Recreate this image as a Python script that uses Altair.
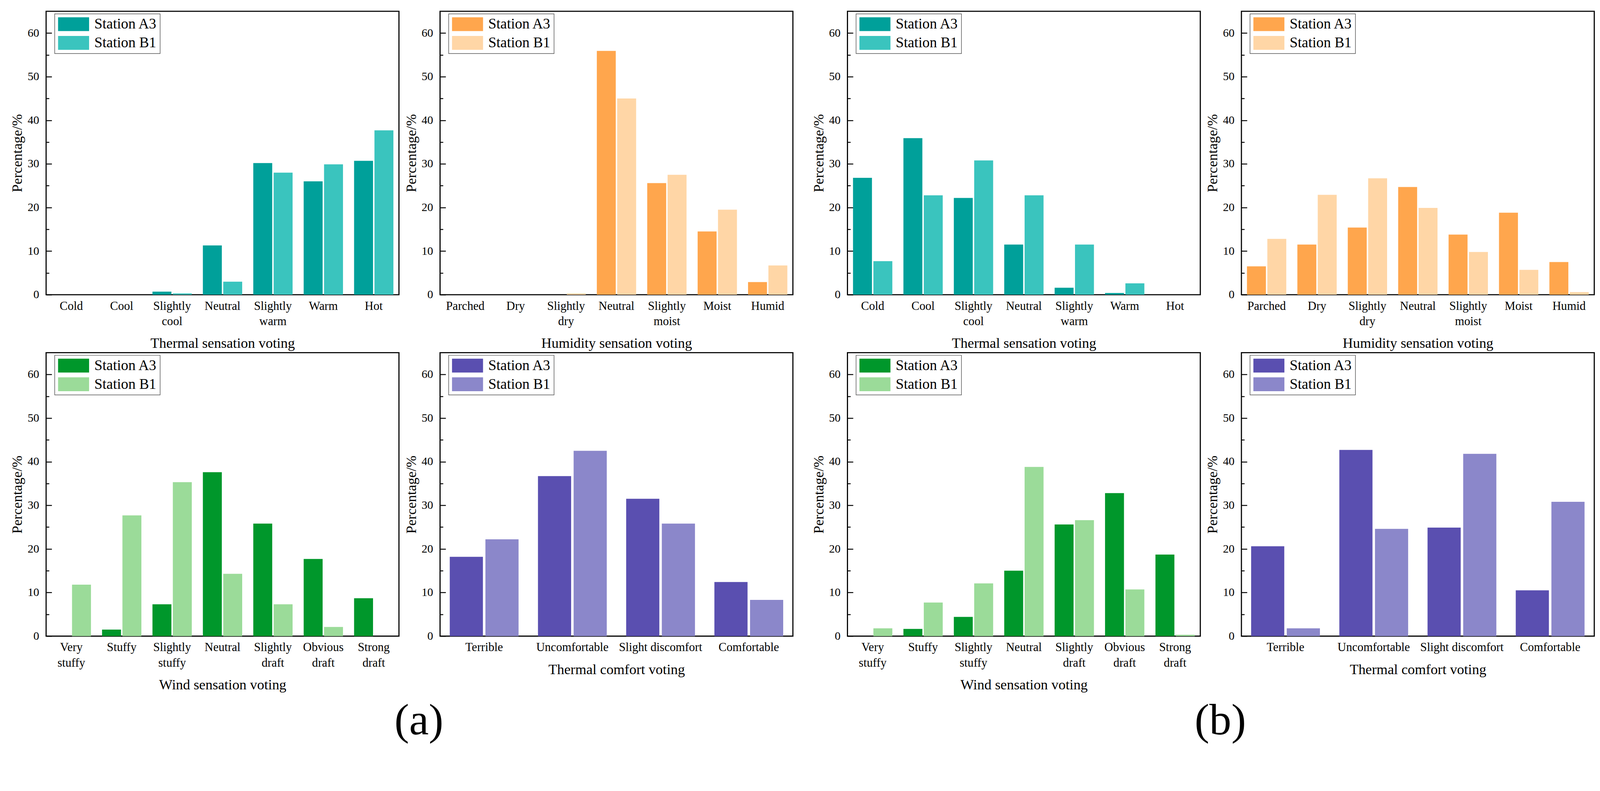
import altair as alt
import pandas as pd

FONT = "Liberation Serif"

thermal_cats = ["Cold", "Cool", "Slightly cool", "Neutral", "Slightly warm", "Warm", "Hot"]
humid_cats = ["Parched", "Dry", "Slightly dry", "Neutral", "Slightly moist", "Moist", "Humid"]
wind_cats = ["Very stuffy", "Stuffy", "Slightly stuffy", "Neutral", "Slightly draft", "Obvious draft", "Strong draft"]
comfort_cats = ["Terrible", "Uncomfortable", "Slight discomfort", "Comfortable"]

# (a)
a_thermal_A3 = [0, 0, 0.7, 11.3, 30.2, 26.0, 30.7]
a_thermal_B1 = [0, 0, 0.3, 3.0, 28.0, 29.9, 37.7]
a_humid_A3 = [0, 0, 0, 55.9, 25.6, 14.5, 2.9]
a_humid_B1 = [0, 0, 0.3, 45.0, 27.5, 19.5, 6.7]
a_wind_A3 = [0, 1.5, 7.3, 37.6, 25.8, 17.7, 8.7]
a_wind_B1 = [11.8, 27.7, 35.3, 14.3, 7.3, 2.1, 0]
a_comfort_A3 = [18.2, 36.7, 31.5, 12.4]
a_comfort_B1 = [22.2, 42.5, 25.8, 8.3]

# (b)
b_thermal_A3 = [26.8, 35.9, 22.2, 11.5, 1.6, 0.4, 0]
b_thermal_B1 = [7.7, 22.8, 30.8, 22.8, 11.5, 2.6, 0]
b_humid_A3 = [6.5, 11.5, 15.4, 24.7, 13.8, 18.8, 7.5]
b_humid_B1 = [12.8, 22.9, 26.7, 19.9, 9.8, 5.7, 0.6]
b_wind_A3 = [0, 1.65, 4.4, 15.0, 25.6, 32.8, 18.7]
b_wind_B1 = [1.8, 7.7, 12.1, 38.8, 26.6, 10.7, 0.3]
b_comfort_A3 = [20.6, 42.7, 24.9, 10.5]
b_comfort_B1 = [1.8, 24.6, 41.8, 30.8]

stations = ["Station A3", "Station B1"]
teal = ["#00A09A", "#3AC4BE"]
orange = ["#FFA64D", "#FFD6A6"]
green = ["#00972B", "#9BDB99"]
purple = ["#5A4FB0", "#8B87CA"]

PW, PH = 944, 758


def panel(cats, a3, b1, colors, xtitle, split):
    n = len(cats)
    df = pd.DataFrame({
        "cat": cats * 2,
        "station": [stations[0]] * n + [stations[1]] * n,
        "value": a3 + b1,
    })
    xaxis_kw = dict(
        title=xtitle, labelAngle=0, ticks=False, tickSize=0, domain=False,
        labelPadding=15, labelFontSize=32, labelLineHeight=41, labelLimit=0,
        titleFontSize=38, titlePadding=25, titleFontWeight="normal",
        labelColor="black", titleColor="black", labelFont=FONT, titleFont=FONT,
    )
    if split:
        xaxis_kw["labelExpr"] = "split(datum.label, ' ')"
    yaxis = alt.Axis(
        title="Percentage/%", values=list(range(0, 61, 5)),
        labelExpr="datum.value % 10 === 0 ? datum.label : ''",
        ticks=False, tickSize=0, domain=False, labelPadding=19,
        labelFontSize=31, titleFontSize=38, titlePadding=7,
        titleFontWeight="normal", labelColor="black", titleColor="black",
        labelFont=FONT, titleFont=FONT,
        grid=True, gridColor="black", gridOpacity=1, gridWidth=2.5,
        gridDash={"condition": {"test": "datum.value % 10 === 0", "value": [15, 4000]},
                  "value": [8, 4000]},
    )
    legend = alt.Legend(
        title=None, orient="none", legendX=23, legendY=7,
        symbolType="M-2.243,-1H2.243V1H-2.243Z", symbolSize=1369,
        symbolOffset=23, labelOffset=36, symbolStrokeWidth=0, symbolOpacity=1,
        labelFontSize=39, labelFont=FONT, labelColor="black", labelLimit=0,
        strokeColor="#555555", padding=8, rowPadding=10,
        fillColor="white",
    )
    return alt.Chart(df).mark_bar().encode(
        x=alt.X("cat:N", sort=cats, axis=alt.Axis(**xaxis_kw),
                scale=alt.Scale(paddingInner=0.22, paddingOuter=0.11)),
        xOffset=alt.XOffset("station:N", sort=stations,
                            scale=alt.Scale(paddingInner=0.07, paddingOuter=0)),
        y=alt.Y("value:Q", axis=yaxis, scale=alt.Scale(domain=[0, 65], nice=False, zero=True)),
        color=alt.Color("station:N", sort=stations,
                        scale=alt.Scale(domain=stations, range=colors), legend=legend),
    ).properties(width=PW, height=PH)


def indep(ch):
    return ch.resolve_scale(color="independent", x="independent", y="independent",
                            xOffset="independent")


p1 = panel(thermal_cats, a_thermal_A3, a_thermal_B1, teal, "Thermal sensation voting", True)
p2 = panel(humid_cats, a_humid_A3, a_humid_B1, orange, "Humidity sensation voting", True)
p3 = panel(thermal_cats, b_thermal_A3, b_thermal_B1, teal, "Thermal sensation voting", True)
p4 = panel(humid_cats, b_humid_A3, b_humid_B1, orange, "Humidity sensation voting", True)
p5 = panel(wind_cats, a_wind_A3, a_wind_B1, green, "Wind sensation voting", True)
p6 = panel(comfort_cats, a_comfort_A3, a_comfort_B1, purple, "Thermal comfort voting", False)
p7 = panel(wind_cats, b_wind_A3, b_wind_B1, green, "Wind sensation voting", True)
p8 = panel(comfort_cats, b_comfort_A3, b_comfort_B1, purple, "Thermal comfort voting", False)

SP = 11
rowA1 = indep(alt.hconcat(p1, p2, spacing=SP))
rowA2 = indep(alt.hconcat(p5, p6, spacing=SP))
rowB1 = indep(alt.hconcat(p3, p4, spacing=SP))
rowB2 = indep(alt.hconcat(p7, p8, spacing=SP))


def group(r1, r2, label):
    return indep(alt.vconcat(r1, r2, spacing=1)).properties(
        title=alt.TitleParams(label, orient="bottom", anchor="middle", fontSize=118,
                              font=FONT, fontWeight="normal", color="black",
                              offset=18, dx=46)
    )


gA = group(rowA1, rowA2, "(a)")
gB = group(rowB1, rowB2, "(b)")

chart = indep(alt.hconcat(gA, gB, spacing=47)).properties(
    padding={"left": 18, "top": -24, "right": 5, "bottom": 5}
).configure(font=FONT).configure_view(stroke="black", strokeWidth=3
).configure_legend(strokeWidth=1.5)

chart.save("out.html", embed_options={"renderer": "svg", "actions": False})
